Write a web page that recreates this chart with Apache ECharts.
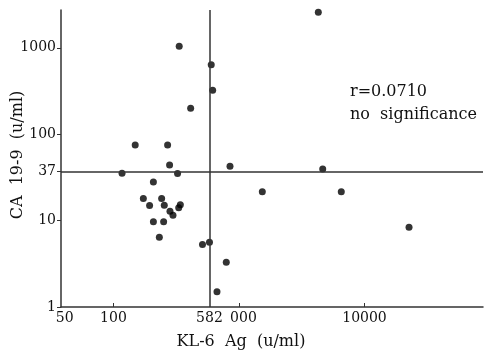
<!DOCTYPE html>
<html><head><meta charset="utf-8">
<script src="https://cdn.jsdelivr.net/npm/echarts@6/dist/echarts.min.js"></script>
<style>html,body{margin:0;padding:0;background:#fff}#c{width:484px;height:353px}</style>
</head><body><div id="c"></div>
<script>
// KL-6 Ag (u/ml) values
const klValues = [4285, 334, 601, 617, 412, 149, 270, 280, 848, 4645, 117, 324, 208, 1534, 6531,
  173, 242, 194, 254, 341, 331, 282, 298, 208, 251, 232, 22630, 512, 582, 792, 668];
// CA 19-9 (u/ml) values
const caValues = [2570, 1040, 638, 322, 199, 75, 75, 44, 42.5, 39.6, 35.4, 35, 28, 21.5, 21.5,
  18, 18, 14.9, 15, 15.2, 14.1, 12.8, 11.5, 9.7, 9.7, 6.4, 8.4, 5.3, 5.6, 3.3, 1.5];
const xTicks = [50, 100, 582, 1000, 10000];
const xTickMarks = [100, 1000, 10000];
const yTicks = [1, 10, 37, 100, 1000];
const cutoffKL = 582;
const cutoffCA = 37;
const xTitle = 'KL-6  Ag  (u/ml)';
const yTitle = 'CA  19-9  (u/ml)';
const noteLines = ['r=0.0710', 'no  significance'];

const font = '"DejaVu Serif", "Liberation Serif", serif';
const pts = klValues.map((v, i) => [v, caValues[i]]);
const chart = echarts.init(document.getElementById('c'), null, {renderer: 'canvas'});
const richBase = {fontFamily: font, fontSize: 14, color: '#111'};
chart.setOption({
  animation: false,
  grid: {left: 61, right: 1, top: 10, bottom: 46, containLabel: false, outerBoundsMode: 'none'},
  xAxis: {
    type: 'log', min: 38.2, max: 87900,
    axisLine: {lineStyle: {color: '#333', width: 1.5}},
    axisTick: {show: true, inside: true, length: 4, customValues: xTickMarks, lineStyle: {color: '#333'}},
    splitLine: {show: false},
    axisLabel: {
      customValues: xTicks, margin: 4, fontFamily: font, fontSize: 14, color: '#111',
      formatter: v => {
        if (Math.abs(v - 50) < 1) return '{l|50}';
        if (Math.abs(v - 1000) < 1) return '{h|1}{n|000}';
        return String(Math.round(v));
      },
      rich: {
        l: Object.assign({padding: [0, 22, 0, 0]}, richBase),
        h: Object.assign({}, richBase, {color: 'rgba(0,0,0,0)'}),
        n: Object.assign({}, richBase)
      }
    }
  },
  yAxis: {
    type: 'log', min: 1, max: 2735,
    axisLine: {show: true, lineStyle: {color: '#333', width: 1.5}},
    axisTick: {show: true, inside: false, length: 4, customValues: yTicks, lineStyle: {color: '#333'}},
    splitLine: {show: false},
    axisLabel: {customValues: yTicks, margin: 5, fontFamily: font, fontSize: 14, color: '#111',
      formatter: v => String(Math.round(v))}
  },
  series: [{
    type: 'scatter', data: pts, symbolSize: 7,
    itemStyle: {color: '#000'},
    markLine: {
      silent: true, symbol: ['none', 'none'], label: {show: false},
      lineStyle: {color: '#333', width: 1.5, type: 'solid'},
      data: [{yAxis: cutoffCA}, {xAxis: cutoffKL}]
    }
  }],
  graphic: [
    {type: 'text', x: 241, y: 342, style: {text: xTitle, font: '16px ' + font, fill: '#111', align: 'center', verticalAlign: 'middle'}},
    {type: 'text', x: 18, y: 155, rotation: Math.PI / 2, style: {text: yTitle, font: '16px ' + font, fill: '#111', align: 'center', verticalAlign: 'middle'}},
    {type: 'text', x: 350, y: 80, style: {text: noteLines.join('\n'), font: '16px ' + font, fill: '#111', lineHeight: 23}}
  ]
});
</script></body></html>
